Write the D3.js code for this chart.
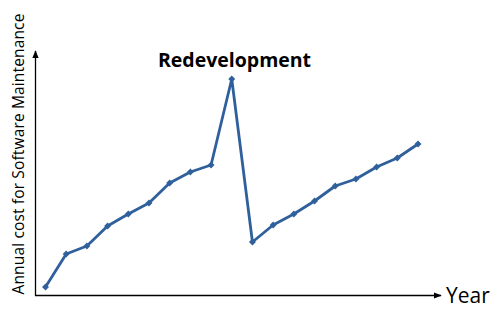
<!DOCTYPE html>
<html>
<head>
<meta charset="utf-8">
<script src="https://cdn.jsdelivr.net/npm/d3@7"></script>
<style>
  body { margin: 0; background: #fff; }
  svg { display: block; font-family: "Open Sans", "Noto Sans", sans-serif; }
</style>
</head>
<body>
<div id="chart"></div>
<script>
// year index and annual maintenance cost (arbitrary units)
const years = [1, 2, 3, 4, 5, 6, 7, 8, 9, 10, 11, 12, 13, 14, 15, 16, 17, 18, 19];
const costs = [9, 42, 50, 70, 82, 93, 113, 124, 131, 217, 54, 71, 82, 95, 110, 117, 129, 138, 152];

const yLabel = 'Annual cost for Software Maintenance';
const xLabel = 'Year';
const annotation = 'Redevelopment';

const width = 499;
const height = 309;

const svg = d3.select('#chart')
  .append('svg')
  .attr('width', width)
  .attr('height', height);

const xScale = d3.scaleLinear().domain([1, 19]).range([45.5, 418]);
const yScale = d3.scaleLinear().domain([0, 245]).range([296, 51]);

// arrow marker for axes
svg.append('defs').append('marker')
  .attr('id', 'arrow')
  .attr('viewBox', '0 0 10 10')
  .attr('refX', 9).attr('refY', 5)
  .attr('markerWidth', 6).attr('markerHeight', 6)
  .attr('orient', 'auto')
  .append('path')
  .attr('d', 'M0,1 L10,5 L0,9 z')
  .attr('fill', '#000');

// axes
svg.append('line')
  .attr('x1', 35).attr('y1', 295.5)
  .attr('x2', 441).attr('y2', 295.5)
  .attr('stroke', '#000').attr('stroke-width', 1.3)
  .attr('marker-end', 'url(#arrow)');

svg.append('line')
  .attr('x1', 35.5).attr('y1', 296)
  .attr('x2', 35.5).attr('y2', 51)
  .attr('stroke', '#000').attr('stroke-width', 1.3)
  .attr('marker-end', 'url(#arrow)');

const data = years.map((y, i) => ({ year: y, cost: costs[i] }));

const line = d3.line()
  .x(d => xScale(d.year))
  .y(d => yScale(d.cost));

svg.append('path')
  .datum(data)
  .attr('d', line)
  .attr('fill', 'none')
  .attr('stroke', '#30609c')
  .attr('stroke-width', 2.8)
  .attr('stroke-linejoin', 'round');

svg.append('g')
  .selectAll('path')
  .data(data)
  .join('path')
  .attr('transform', d => `translate(${xScale(d.year)},${yScale(d.cost)}) rotate(45)`)
  .attr('d', d3.symbol(d3.symbolSquare, 24))
  .attr('fill', '#30609c');

// labels
svg.append('text')
  .attr('x', 234.5).attr('y', 67)
  .attr('text-anchor', 'middle')
  .attr('font-size', 19.5)
  .attr('font-weight', 'bold')
  .attr('fill', '#000')
  .text(annotation);

svg.append('text')
  .attr('x', 446).attr('y', 303)
  .attr('font-size', 21)
  .attr('fill', '#000')
  .text(xLabel);

svg.append('text')
  .attr('transform', 'translate(24,154) rotate(-90)')
  .attr('text-anchor', 'middle')
  .attr('font-size', 15.5)
  .attr('letter-spacing', 0.15)
  .attr('fill', '#000')
  .text(yLabel);
</script>
</body>
</html>
